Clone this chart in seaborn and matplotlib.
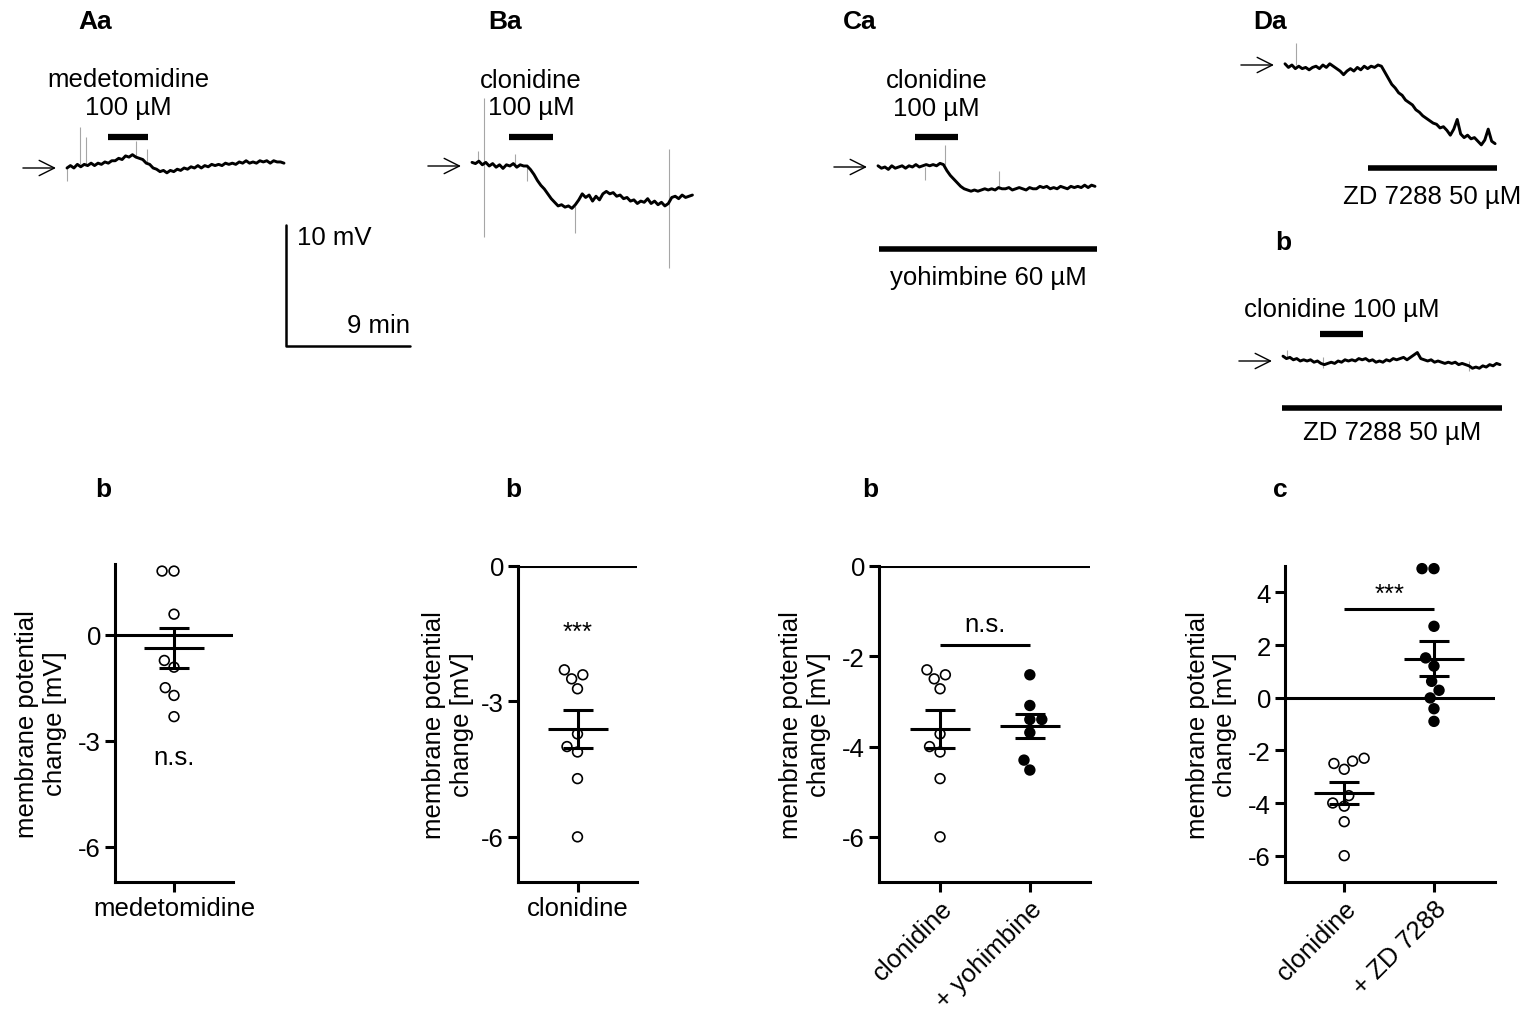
import numpy as np
import pandas as pd
import seaborn as sns
import matplotlib.pyplot as plt

W, H = 1535, 1020
PX_MIN = 124 / 9.0    # pixels per minute in the traces (9 min scale bar)
PX_MV = 121 / 10.0    # pixels per mV in the traces (10 mV scale bar)
FS = 18.5

# ---------------- traces: membrane potential (mV, relative to rest), one sample every 0.25 min
dt = 0.25
trace_Aa = [0.0, 0.2, 0.0, 0.3, 0.1, 0.3, 0.2, 0.4, 0.2, 0.4, 0.3, 0.5, 0.4, 0.6, 0.6, 0.8,
            0.7, 1.0, 0.9, 1.1, 0.9, 0.8, 0.7, 0.4, 0.3, 0.0, -0.1, -0.3, -0.2, -0.4, -0.2, -0.3,
            -0.1, -0.2, 0.0, -0.1, 0.1, 0.0, 0.2, 0.0, 0.2, 0.1, 0.3, 0.2, 0.3, 0.2, 0.4, 0.3,
            0.4, 0.3, 0.5, 0.4, 0.6, 0.4, 0.5, 0.4, 0.6, 0.5, 0.6, 0.4, 0.6, 0.5, 0.5, 0.4]
trace_Ba = [0.3, 0.2, 0.4, 0.1, 0.3, 0.0, 0.2, -0.1, 0.1, -0.2, 0.1, 0.0, 0.2, -0.1, 0.1, 0.0,
            0.0, -0.3, -0.7, -1.2, -1.6, -1.9, -2.3, -2.7, -3.0, -3.3, -3.2, -3.4, -3.3, -3.5, -3.2, -2.8,
            -2.3, -2.6, -2.4, -2.9, -2.5, -2.8, -2.3, -2.1, -2.3, -2.2, -2.5, -2.4, -2.7, -2.6, -2.9, -2.8,
            -3.1, -2.9, -3.0, -2.7, -3.1, -2.9, -3.2, -3.0, -3.3, -3.1, -2.6, -2.5, -2.7, -2.4, -2.6, -2.5,
            -2.4]
trace_Ca = [0.1, -0.1, 0.0, -0.2, 0.1, -0.1, 0.0, 0.1, -0.1, 0.1, 0.0, 0.2, 0.0, 0.1, 0.2, 0.1,
            0.2, 0.1, 0.3, 0.2, -0.3, -0.7, -1.0, -1.3, -1.6, -1.8, -1.9, -2.0, -1.9, -2.0, -1.9, -1.8,
            -1.9, -1.8, -1.9, -1.7, -1.8, -1.8, -1.7, -1.9, -1.8, -1.7, -1.8, -1.9, -1.7, -1.8, -1.8, -1.6,
            -1.7, -1.6, -1.8, -1.7, -1.8, -1.6, -1.7, -1.8, -1.6, -1.7, -1.6, -1.7, -1.5, -1.7, -1.5, -1.6]
trace_Da = [0.1, -0.2, 0.0, -0.3, -0.1, -0.3, -0.2, -0.4, -0.2, -0.1, -0.3, 0.0, -0.2, 0.1, -0.1, -0.3,
            -0.5, -0.8, -0.5, -0.3, -0.5, -0.2, -0.4, -0.1, -0.3, -0.1, -0.2, 0.0, -0.1, -0.6, -1.1, -1.6,
            -1.9, -2.3, -2.5, -2.9, -3.1, -3.3, -3.7, -3.9, -4.2, -4.4, -4.6, -4.8, -4.9, -5.2, -5.1, -5.4,
            -5.8, -5.3, -4.5, -5.7, -6.0, -5.8, -6.1, -6.0, -6.3, -6.6, -6.2, -5.3, -6.3, -6.5]
trace_Db = [0.4, 0.2, 0.3, 0.1, 0.2, 0.0, 0.1, 0.0, 0.1, -0.1, 0.0, -0.2, -0.3, -0.2, -0.1, -0.2,
            0.0, -0.1, 0.1, 0.0, 0.1, 0.0, 0.2, 0.1, 0.2, 0.0, 0.1, -0.1, 0.0, -0.1, 0.1, 0.0,
            0.2, 0.1, 0.2, 0.3, 0.1, 0.3, 0.5, 0.7, 0.2, 0.1, 0.0, 0.1, -0.1, 0.0, -0.1, -0.2,
            -0.1, -0.2, -0.1, -0.3, -0.2, -0.3, -0.4, -0.6, -0.5, -0.6, -0.4, -0.5, -0.3, -0.4, -0.2, -0.3]

# artefacts / spikes: time (min), low and high end (mV)
spikes_Aa = ([0.0, 0.95, 1.4, 5.0, 5.8], [-1.1, 0.3, 0.3, 1.0, 0.5], [0.0, 3.4, 2.6, 2.2, 1.6])
spikes_Ba = ([0.4, 0.9, 3.1, 4.0, 7.5, 14.3], [0.3, -5.9, 0.1, -1.2, -5.5, -8.4], [1.2, 5.6, 1.0, 0.0, -3.3, 1.4])
spikes_Ca = ([3.4, 4.85, 8.8], [-1.1, 0.2, -1.8], [0.0, 1.8, -0.3])
spikes_Da = ([0.8], [0.0], [1.85])
spikes_Db = ([0.3, 2.9, 13.5], [0.3, -0.6, -0.8], [0.9, 0.3, 0.0])

# drug applications (min)
medeto_app = (3.0, 5.9)
clon_app_B = (2.7, 5.9)
clon_app_C = (2.7, 5.8)
yoh_app = (0.1, 15.9)
zd_app_Da = (6.0, 15.4)
clon_app_Db = (2.7, 5.8)
zd_app_Db = (-0.1, 15.9)
scale_mv, scale_min = 10, 9

# ---------------- summary data: membrane potential change (mV)
medeto = [1.8, 1.8, 0.58, -0.73, -0.92, -1.5, -1.72, -2.32]
clon = [-2.30, -2.41, -2.50, -2.72, -3.72, -4.00, -4.12, -4.71, -6.00]
clon_yoh = [-2.41, -3.09, -3.40, -3.40, -3.69, -4.30, -4.52]
clon_zd = [4.9, 4.9, 2.71, 1.51, 1.2, 0.62, 0.28, -0.01, -0.42, -0.9]

sns.set_theme(style='ticks')
plt.rcParams['font.family'] = ['Liberation Sans', 'DejaVu Sans']
plt.rcParams.update({'text.color': 'black', 'axes.labelcolor': 'black',
                     'xtick.color': 'black', 'ytick.color': 'black',
                     'axes.edgecolor': 'black'})

fig = plt.figure(figsize=(W / 100, H / 100), dpi=100)


def trace_ax(x0, y0, t_lim, v_lim):
    left = x0 + t_lim[0] * PX_MIN
    right = x0 + t_lim[1] * PX_MIN
    top = y0 - v_lim[1] * PX_MV
    bot = y0 - v_lim[0] * PX_MV
    ax = fig.add_axes([left / W, 1 - bot / H, (right - left) / W, (bot - top) / H])
    ax.set_xlim(*t_lim)
    ax.set_ylim(*v_lim)
    ax.axis('off')
    return ax


def draw_trace(ax, v, spikes):
    t = np.arange(len(v)) * dt
    ax.vlines(spikes[0], spikes[1], spikes[2], color='0.65', lw=0.8, zorder=1)
    sns.lineplot(x=t, y=v, ax=ax, color='black', lw=2.1, estimator=None, sort=False, zorder=2)
    ax.annotate('', xy=(-0.8, 0), xytext=(-3.2, 0),
                arrowprops=dict(arrowstyle='->,head_length=0.5,head_width=0.25', lw=1.0,
                                color='black', mutation_scale=22, shrinkA=0, shrinkB=0))


def drug_bar(ax, span, v, label, text_v, lw=4.5):
    ax.hlines(v, span[0], span[1], color='black', lw=lw)
    ax.text((span[0] + span[1]) / 2, text_v, label, ha='center', va='center', fontsize=FS)


def panel_label(x, y, s):
    fig.text(x / W, 1 - y / H, s, ha='center', va='center', fontsize=19, fontweight='bold')


# Aa
ax = trace_ax(67, 169, (-4, 26), (-16, 8))
draw_trace(ax, trace_Aa, spikes_Aa)
drug_bar(ax, medeto_app, 2.56, 'medetomidine\n100 µM', 6.2)
sb_t, sb_v = 15.87, -14.7
ax.plot([sb_t, sb_t, sb_t + scale_min], [sb_v + scale_mv, sb_v, sb_v], color='black', lw=1.8)
ax.text(sb_t + 0.85, sb_v + scale_mv - 1.0, f'{scale_mv} mV', ha='left', va='center', fontsize=FS)
ax.text(sb_t + scale_min, sb_v + 1.7, f'{scale_min} min', ha='right', va='center', fontsize=FS)

# Ba
ax = trace_ax(472, 167, (-4, 17), (-10, 8))
draw_trace(ax, trace_Ba, spikes_Ba)
drug_bar(ax, clon_app_B, 2.4, 'clonidine\n100 µM', 6.0)

# Ca
ax = trace_ax(878, 168, (-4, 17), (-11, 8))
draw_trace(ax, trace_Ca, spikes_Ca)
drug_bar(ax, clon_app_C, 2.48, 'clonidine\n100 µM', 6.05)
drug_bar(ax, yoh_app, -6.78, 'yohimbine 60 µM', -9.1, lw=4)

# Da
ax = trace_ax(1285, 66, (-4, 17), (-12, 3))
draw_trace(ax, trace_Da, spikes_Da)
drug_bar(ax, zd_app_Da, -8.5, 'ZD 7288 50 µM', -10.8, lw=4)

# Db
ax = trace_ax(1283, 362, (-4, 17), (-7, 6))
draw_trace(ax, trace_Db, spikes_Db)
drug_bar(ax, clon_app_Db, 2.23, 'clonidine 100 µM', 4.3)
drug_bar(ax, zd_app_Db, -3.85, 'ZD 7288 50 µM', -5.9, lw=4)

panel_label(95, 22, 'Aa')
panel_label(505, 22, 'Ba')
panel_label(860, 22, 'Ca')
panel_label(1270, 22, 'Da')
panel_label(1283, 243, 'b')


# ---------------- summary scatter panels
def dot_panel(rect, groups, labels, xlim, ylim, yticks, ylab_x, rotate=False):
    l, r, t, b = rect
    ax = fig.add_axes([l / W, 1 - b / H, (r - l) / W, (b - t) / H])
    ax.patch.set_visible(False)
    rows = []
    for i, (name, vals) in enumerate(zip(labels, groups)):
        fill = 'open' if i == 0 else 'filled'
        rows += [{'group': name, 'value': v, 'fill': fill} for v in vals]
    df = pd.DataFrame(rows)
    sns.swarmplot(data=df, x='group', y='value', hue='fill', order=labels,
                  palette={'open': 'white', 'filled': 'black'}, edgecolor='black',
                  linewidth=1.2, size=7, ax=ax, legend=False, zorder=3)
    for c in ax.collections:
        c.set_clip_on(False)
    upp = (xlim[1] - xlim[0]) / (r - l)
    for i, vals in enumerate(groups):
        m = np.mean(vals)
        s = np.std(vals, ddof=1) / np.sqrt(len(vals))
        ax.hlines(m, i - 30 * upp, i + 30 * upp, color='black', lw=2.2, zorder=5)
        ax.hlines([m - s, m + s], i - 15 * upp, i + 15 * upp, color='black', lw=2.2, zorder=5)
        ax.vlines(i, m - s, m + s, color='black', lw=2.2, zorder=5)
    ax.axhline(0, color='black', lw=2.2, zorder=2)
    ax.set_xlim(*xlim)
    ax.set_ylim(*ylim)
    ax.set_yticks(yticks)
    ax.set_yticklabels([str(v) for v in yticks])
    ax.set_xticks(range(len(labels)))
    if rotate:
        ax.set_xticklabels(labels, rotation=45, ha='right', rotation_mode='anchor')
    else:
        ax.set_xticklabels(labels)
    ax.set_xlabel('')
    ax.set_ylabel('membrane potential\nchange [mV]', fontsize=FS)
    ax.yaxis.label.set_va('center')
    ax.yaxis.set_label_coords(ylab_x, 0.5)
    sns.despine(ax=ax)
    for sp in ('left', 'bottom'):
        ax.spines[sp].set_linewidth(2.2)
    ax.tick_params(width=2.2, length=7, labelsize=FS, pad=3, color='black')
    return ax


ax = dot_panel((115, 233, 565, 883), [medeto], ['medetomidine'], (-0.5, 0.5), (-7, 2), [0, -3, -6], -0.63)
ax.text(0, -3.45, 'n.s.', ha='center', va='center', fontsize=FS)

ax = dot_panel((518, 637, 567, 883), [clon], ['clonidine'], (-0.5, 0.5), (-7, 0), [0, -3, -6], -0.59)
ax.text(0, -1.45, '***', ha='center', va='center', fontsize=FS)

ax = dot_panel((879, 1090, 567, 883), [clon, clon_yoh], ['clonidine', '+ yohimbine'],
               (-0.68, 1.67), (-7, 0), [0, -2, -4, -6], -0.35, rotate=True)
ax.hlines(-1.76, 0, 1, color='black', lw=2.2)
ax.text(0.5, -1.29, 'n.s.', ha='center', va='center', fontsize=FS)

ax = dot_panel((1285, 1495, 567, 883), [clon, clon_zd], ['clonidine', '+ ZD 7288'],
               (-0.66, 1.68), (-7, 5), [4, 2, 0, -2, -4, -6], -0.35, rotate=True)
ax.hlines(3.37, 0, 1, color='black', lw=2.2)
ax.text(0.5, 3.95, '***', ha='center', va='center', fontsize=FS)

panel_label(103, 490, 'b')
panel_label(513, 490, 'b')
panel_label(870, 490, 'b')
panel_label(1280, 490, 'c')

fig.savefig('out.png', dpi=100)
